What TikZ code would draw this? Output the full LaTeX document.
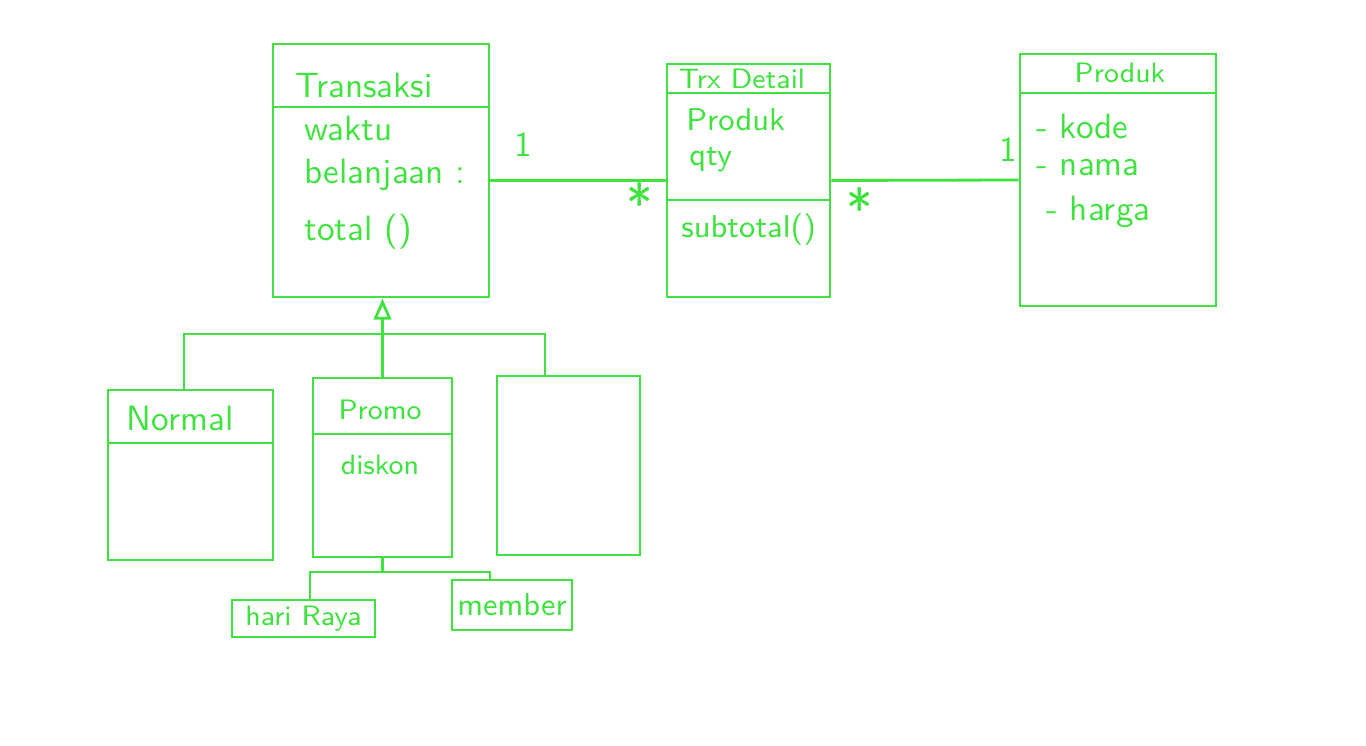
\documentclass[tikz,border=0pt]{standalone}
\usetikzlibrary{positioning}
\usetikzlibrary{arrows.meta}
\definecolor{pen}{RGB}{64,226,64}

\begin{document}
\begin{tikzpicture}[x=0.01cm, y=-0.01cm, line width=0.8pt, color=pen,
  cls/.style={draw, rectangle, inner sep=0pt},
  title/.style={font=\sffamily\fontsize{10}{12}\selectfont},
  small/.style={font=\sffamily\fontsize{8}{10}\selectfont},
  attr/.style={anchor=west, inner sep=0pt, font=\sffamily\fontsize{10}{12}\selectfont},
  attrsmall/.style={attr, font=\sffamily\fontsize{9}{11}\selectfont},
  mult/.style={font=\sffamily\fontsize{10}{12}\selectfont},
  star/.style={font=\sffamily\fontsize{16}{18}\selectfont}]
  % Fix the page to the size of the board
  \useasboundingbox (0,0) rectangle (1366,746);

  % Class boxes
  \node[cls, minimum width=2.16cm, minimum height=2.53cm] (transaksi) at (381,170.5) {};
  \node[cls, minimum width=1.63cm, minimum height=2.33cm] (trxdetail) at (748.5,180.5) {};
  \node[cls, minimum width=1.96cm, minimum height=2.52cm] (produk) at (1118,180) {};
  \node[cls, minimum width=1.65cm, minimum height=1.70cm] (normal) at (190.5,475) {};
  \node[cls, minimum width=1.39cm, minimum height=1.79cm] (promo) at (382.5,467.5) {};
  \node[cls, minimum width=1.43cm, minimum height=1.79cm] (lain) at (568.5,465.5) {};
  \node[cls, small, minimum width=1.43cm, minimum height=0.37cm] (hariraya) at (303.5,618.5) {hari Raya};
  \node[cls, font=\sffamily\fontsize{9}{11}\selectfont, minimum width=1.20cm, minimum height=0.50cm] (member) at (512,605) {member};

  % Compartment lines
  \draw (transaksi.west |- 0,107) -- (transaksi.east |- 0,107);
  \draw (trxdetail.west |- 0,93) -- (trxdetail.east |- 0,93);
  \draw (trxdetail.west |- 0,200) -- (trxdetail.east |- 0,200);
  \draw (produk.west |- 0,93) -- (produk.east |- 0,93);
  \draw (normal.west |- 0,443) -- (normal.east |- 0,443);
  \draw (promo.west |- 0,434) -- (promo.east |- 0,434);

  % Transaksi
  \node[title] (transaksiName) at (364,85) {Transaksi};
  \foreach \y/\txt [count=\i] in {128/waktu, 175/belanjaan :, 232/total ()}
    \node[attr] (transaksiAttr\i) at (303,\y) {\txt};

  % Trx Detail
  \node[small] (trxdetailName) at (742,79) {Trx Detail};
  \node[attrsmall] (trxdetailAttr1) at (685,120) {Produk};
  \node[attrsmall] (trxdetailAttr2) at (688,160) {qty};
  \node[attrsmall] (trxdetailOp) at (680,230) {subtotal()};

  % Produk
  \node[small] (produkName) at (1120,73) {Produk};
  \foreach \x/\y/\txt [count=\i] in {1035/126/kode, 1035/168/nama, 1045/212/harga}
    \node[attr] (produkAttr\i) at (\x,\y) {- \txt};

  % Subclasses
  \node[title] (normalName) at (180,418) {Normal};
  \node[small] (promoName) at (380,410) {Promo};
  \node[small] (promoAttr) at (380,465) {diskon};

  % Associations
  \draw (transaksi.east |- trxdetail.west) -- (trxdetail.west);
  \draw (trxdetail.east) -- (produk.west);
  \node[mult] (multA) at (523,145) {1};
  \node[star] (multB) at (640,203) {*};
  \node[star] (multC) at (860,208) {*};
  \node[mult] (multD) at (1008,150) {1};

  % Generalization
  \draw[-{Triangle[open, length=6pt, width=5pt]}] (promo.north) -- (promo.north |- transaksi.south);
  \coordinate (busL) at (184,334);
  \coordinate (busR) at (545,334);
  \draw (busL |- normal.north) -- (busL) -- (busR) -- (busR |- lain.north);

  % Promo variants
  \coordinate (subL) at (310,572);
  \coordinate (subR) at (490,572);
  \draw (promo.south) -- (promo.south |- subL);
  \draw (subL |- hariraya.north) -- (subL) -- (subR) -- (subR |- member.north);
\end{tikzpicture}
\end{document}
